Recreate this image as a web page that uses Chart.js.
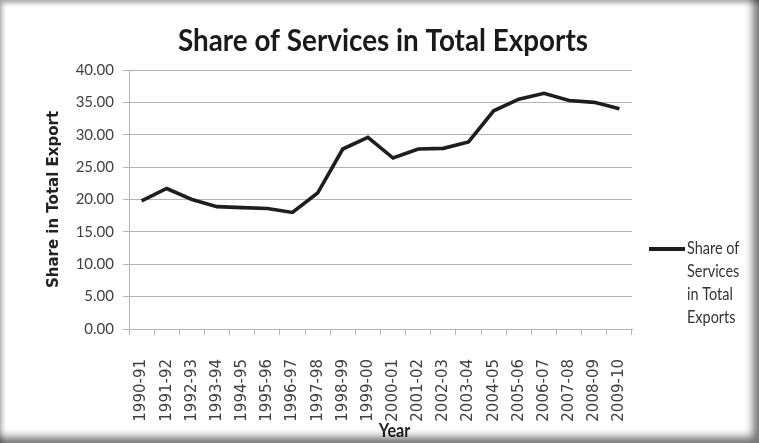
<!DOCTYPE html>
<html>
<head>
<meta charset="utf-8">
<script src="https://cdn.jsdelivr.net/npm/chart.js@4"></script>
<style>
  html, body { margin: 0; padding: 0; background: #ffffff; }
  #wrap { position: relative; width: 759px; height: 443px; overflow: hidden; }
  #chart { position: absolute; left: 0; top: 0; }
  #frame {
    position: absolute; left: 0; top: 0; width: 759px; height: 443px;
    pointer-events: none;
    box-shadow: inset 5px 6px 5px -3px rgba(0,0,0,0.35),
                inset -12px -12px 8px -6px rgba(0,0,0,0.55);
  }
</style>
</head>
<body>
<div id="wrap">
  <canvas id="chart" width="759" height="443"></canvas>
  <div id="frame"></div>
</div>
<script>
// Fiscal years on the category axis
const years = ['1990-91', '1991-92', '1992-93', '1993-94', '1994-95', '1995-96', '1996-97',
  '1997-98', '1998-99', '1999-00', '2000-01', '2001-02', '2002-03', '2003-04', '2004-05',
  '2005-06', '2006-07', '2007-08', '2008-09', '2009-10'];

// Services exports as a percentage of total exports
const servicesShare = [19.8, 21.7, 20.0, 18.9, 18.75, 18.6, 18.0, 21.0, 27.8, 29.6,
  26.4, 27.8, 27.9, 28.9, 33.7, 35.5, 36.4, 35.3, 35.0, 34.0];

// Value axis ticks
const yTickValues = [0, 5, 10, 15, 20, 25, 30, 35, 40];

const seriesName = 'Share of Services in Total Exports';
const chartTitle = 'Share of Services in Total Exports';
const yAxisTitle = 'Share in Total Export';
const xAxisTitle = 'Year';

const gridGrey = '#b4b4b4';

// Draws text squeezed horizontally by factor sx (a narrow, Calibri-like look)
function condensedText(ctx, text, x, y, sx) {
  ctx.save();
  ctx.translate(x, y);
  ctx.scale(sx, 1);
  ctx.fillText(text, 0, 0);
  ctx.restore();
}

// Chart heading, squeezed to a narrow face
const heading = {
  id: 'heading',
  afterDraw(chart) {
    const ctx = chart.ctx;
    ctx.save();
    ctx.font = 'bold 31px Lato, sans-serif';
    ctx.fillStyle = '#1a1a1a';
    ctx.textAlign = 'center';
    ctx.textBaseline = 'alphabetic';
    const w = ctx.measureText(chartTitle).width;
    condensedText(ctx, chartTitle, 383, 51, 410 / w);
    ctx.restore();
  }
};

// Wrapped legend drawn to the right of the plot area
const sideLegend = {
  id: 'sideLegend',
  afterDraw(chart) {
    const ctx = chart.ctx;
    const ds = chart.data.datasets[0];
    const sx = 0.85;
    ctx.save();
    ctx.font = '17px Lato, sans-serif';
    const words = ds.label.split(' ');
    const lines = [];
    let cur = '';
    for (const w of words) {
      const test = cur ? cur + ' ' + w : w;
      if (cur && ctx.measureText(test).width * sx > 60) { lines.push(cur); cur = w; }
      else cur = test;
    }
    if (cur) lines.push(cur);
    const x0 = chart.chartArea.right + 17;
    const y0 = 249;
    ctx.strokeStyle = ds.borderColor;
    ctx.lineWidth = 4;
    ctx.beginPath();
    ctx.moveTo(x0, y0);
    ctx.lineTo(x0 + 36, y0);
    ctx.stroke();
    ctx.fillStyle = '#333333';
    ctx.textBaseline = 'middle';
    ctx.textAlign = 'left';
    lines.forEach((t, i) => condensedText(ctx, t, x0 + 38, y0 + i * 23, sx));
    ctx.restore();
  }
};

// Category axis title, set a little right of the axis centre
const xTitle = {
  id: 'xTitle',
  afterDraw(chart) {
    const ctx = chart.ctx;
    const xs = chart.scales.x;
    ctx.save();
    ctx.font = 'bold 19px Lato, sans-serif';
    ctx.fillStyle = '#222222';
    ctx.textAlign = 'center';
    ctx.textBaseline = 'alphabetic';
    condensedText(ctx, xAxisTitle, (xs.left + xs.right) / 2 + 14, 437, 0.85);
    ctx.restore();
  }
};

new Chart(document.getElementById('chart'), {
  type: 'line',
  data: {
    labels: years,
    datasets: [{
      label: seriesName,
      data: servicesShare,
      borderColor: '#1e1e1e',
      backgroundColor: '#1e1e1e',
      borderWidth: 3.6,
      pointRadius: 0,
      pointHoverRadius: 0,
      tension: 0,
      fill: false
    }]
  },
  options: {
    responsive: false,
    animation: false,
    layout: { padding: { left: 0, right: 127, top: 70, bottom: 0 } },
    plugins: {
      legend: { display: false },
      tooltip: { enabled: false },
      title: { display: false }
    },
    scales: {
      x: {
        offset: true,
        grid: {
          offset: true,
          drawOnChartArea: false,
          drawTicks: true,
          tickLength: 6,
          color: gridGrey
        },
        border: { color: gridGrey, width: 1 },
        ticks: {
          autoSkip: false,
          minRotation: 90,
          maxRotation: 90,
          padding: 24,
          color: '#404040',
          font: { family: '"DejaVu Sans", Verdana, sans-serif', size: 15 }
        },
        afterFit(scale) { scale.height = 114; }
      },
      y: {
        min: 0,
        max: 40,
        afterBuildTicks(scale) { scale.ticks = yTickValues.map(v => ({ value: v })); },
        grid: { color: gridGrey, tickLength: 6, drawTicks: true },
        border: { color: gridGrey, width: 1 },
        ticks: {
          padding: 9,
          color: '#404040',
          font: { family: 'Lato, sans-serif', size: 15 },
          callback: v => Number(v).toFixed(2)
        },
        title: {
          display: true,
          text: yAxisTitle,
          color: '#222222',
          font: { family: '"DejaVu Sans", Verdana, sans-serif', size: 15, weight: 'bold', lineHeight: 1.2 },
          padding: { top: 45, bottom: 0 }
        },
        afterFit(scale) { scale.width = 129; }
      }
    }
  },
  plugins: [heading, sideLegend, xTitle]
});
</script>
</body>
</html>
